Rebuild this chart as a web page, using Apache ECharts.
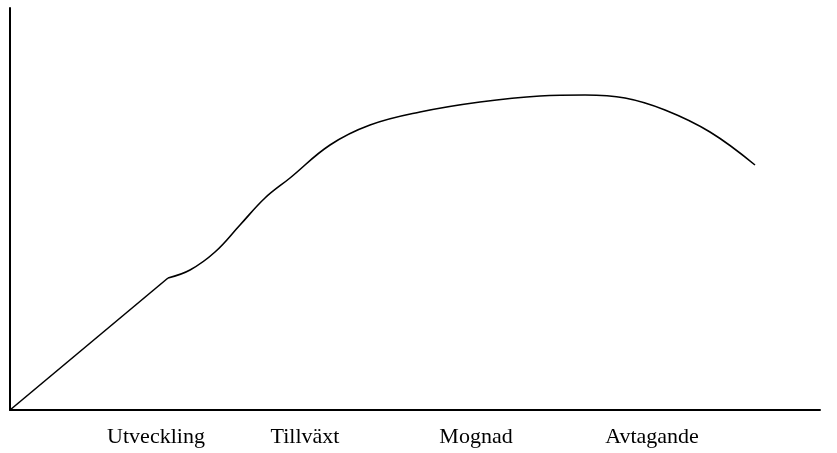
<!DOCTYPE html>
<html>
<head>
<meta charset="utf-8">
<script src="https://cdn.jsdelivr.net/npm/echarts@6/dist/echarts.min.js"></script>
<style>
  html, body { margin: 0; padding: 0; background: #fff; }
  #chart { width: 837px; height: 453px; }
</style>
</head>
<body>
<div id="chart"></div>
<script>
// Phase labels and their positions along the x scale
const phaseLabels = ['Utveckling', 'Tillväxt', 'Mognad', 'Avtagande'];
const phasePositions = [146, 295, 466, 642];

// Introduction segment (straight)
const introX = [0, 158];
const introY = [0, 132];

// Remaining life-cycle curve (smooth)
const curveX = [158, 180, 205, 230, 255, 280, 320, 360, 410, 470, 530, 575, 615, 655, 700, 745];
const curveY = [132, 140, 158, 185, 212, 232, 265, 285, 298, 308, 314, 315, 312, 300, 278, 245];

const zip = (xs, ys) => xs.map((x, i) => [x, ys[i]]);

const chart = echarts.init(document.getElementById('chart'), null, { renderer: 'canvas' });
chart.setOption({
  animation: false,
  backgroundColor: '#ffffff',
  grid: { left: 10, top: 8, right: 17, bottom: 43, containLabel: false },
  xAxis: {
    type: 'value', min: 0, max: 810,
    axisLine: { show: true, onZero: false, lineStyle: { color: '#000', width: 2 } },
    axisTick: { show: false },
    splitLine: { show: false },
    axisLabel: {
      show: true,
      customValues: phasePositions,
      margin: 16,
      color: '#000',
      fontFamily: 'Liberation Serif',
      fontSize: 22,
      formatter: function (v) {
        const i = phasePositions.indexOf(v);
        return i >= 0 ? phaseLabels[i] : '';
      }
    }
  },
  yAxis: {
    type: 'value', min: 0, max: 402,
    axisLine: { show: true, onZero: false, lineStyle: { color: '#000', width: 2 } },
    axisTick: { show: false },
    splitLine: { show: false },
    axisLabel: { show: false }
  },
  series: [
    {
      type: 'line', data: zip(introX, introY), showSymbol: false, symbol: 'none',
      lineStyle: { color: '#000', width: 1.6 }, z: 3
    },
    {
      type: 'line', data: zip(curveX, curveY), smooth: 0.4, showSymbol: false, symbol: 'none',
      lineStyle: { color: '#000', width: 1.6 }, z: 3
    }
  ]
});
</script>
</body>
</html>
